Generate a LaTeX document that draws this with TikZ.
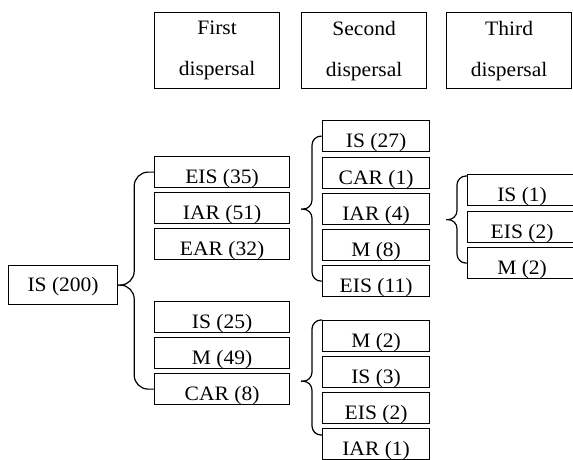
\documentclass[tikz,border=0pt]{standalone}
\usepackage{fontspec}
\setmainfont[FakeStretch=1.05]{Liberation Serif}
\usetikzlibrary{calc}
\begin{document}
\begin{tikzpicture}[x=1pt,y=1pt,line width=1.2pt,
  box/.style={draw,inner xsep=0pt,inner ysep=0pt,text height=26.7pt,text depth=4.3pt,
              font=\fontsize{20.5}{24}\selectfont,anchor=north west},
  c1/.style={box,minimum width=135pt},
  c2/.style={box,minimum width=107pt},
  c3/.style={box,minimum width=109pt},
  root/.style={box,minimum width=109pt,text height=26pt,text depth=13pt},
  head/.style={draw,inner sep=0pt,minimum width=125pt,minimum height=76pt,align=center,
               font=\fontsize{20.5}{41}\selectfont,anchor=north west},
  arm/.style={rounded corners=#1}]
\useasboundingbox (0,0) rectangle (573,-460);
\clip (0,0) rectangle (573,-460);

% column headings
\node[head] (h1) at (154,-12) {First\\dispersal};
\node[head] (h2) at (301,-12) {Second\\dispersal};
\node[head] (h3) at (446,-12) {Third\\dispersal};

% origin
\node[root] (is200) at (8,-265) {IS (200)};

% first dispersal
\node[c1] (eis35) at (154,-156) {EIS (35)};
\node[c1] (iar51) at (154,-192) {IAR (51)};
\node[c1] (ear32) at (154,-228) {EAR (32)};
\node[c1] (is25)  at (154,-301) {IS (25)};
\node[c1] (m49)   at (154,-337) {M (49)};
\node[c1] (car8)  at (154,-373) {CAR (8)};

% second dispersal
\node[c2] (is27)  at (322,-120) {IS (27)};
\node[c2] (car1)  at (322,-157) {CAR (1)};
\node[c2] (iar4)  at (322,-193) {IAR (4)};
\node[c2] (m8)    at (322,-229) {M (8)};
\node[c2] (eis11) at (322,-265) {EIS (11)};

\node[c2] (m2)    at (322,-320) {M (2)};
\node[c2] (is3)   at (322,-356) {IS (3)};
\node[c2] (eis2)  at (322,-392) {EIS (2)};
\node[c2] (iar1)  at (322,-428) {IAR (1)};

% third dispersal
\node[c3] (is1)   at (467,-174) {IS (1)};
\node[c3] (eis2c) at (467,-211) {EIS (2)};
\node[c3] (m2c)   at (467,-247) {M (2)};

% braces
\draw[arm=14pt] (eis35.west) -| ($(is200.east)+(16,0)$) -- (is200.east);
\draw[arm=14pt] (car8.west)  -| ($(is200.east)+(16,0)$) -- (is200.east);

\coordinate (t2) at ($(iar4.west)+(-21,0)$);
\draw[arm=9pt] (is27.west)  -| ($(t2)+(11,0)$) -- (t2);
\draw[arm=9pt] (eis11.west) -| ($(t2)+(11,0)$) -- (t2);

\coordinate (t3) at ($(is3.south west)+(-21,7)$);
\draw[arm=9pt] (m2.north west) -| ($(t3)+(11,0)$) -- (t3);
\draw[arm=9pt] ($(iar1.north west)+(0,-7)$) -| ($(t3)+(11,0)$) -- (t3);

\coordinate (t4) at ($(eis2c.west)+(-21,7.5)$);
\draw[arm=9pt] ($(is1.north west)+(0,-2)$) -| ($(t4)+(11,0)$) -- (t4);
\draw[arm=9pt] (m2c.west) -| ($(t4)+(11,0)$) -- (t4);
\end{tikzpicture}
\end{document}
